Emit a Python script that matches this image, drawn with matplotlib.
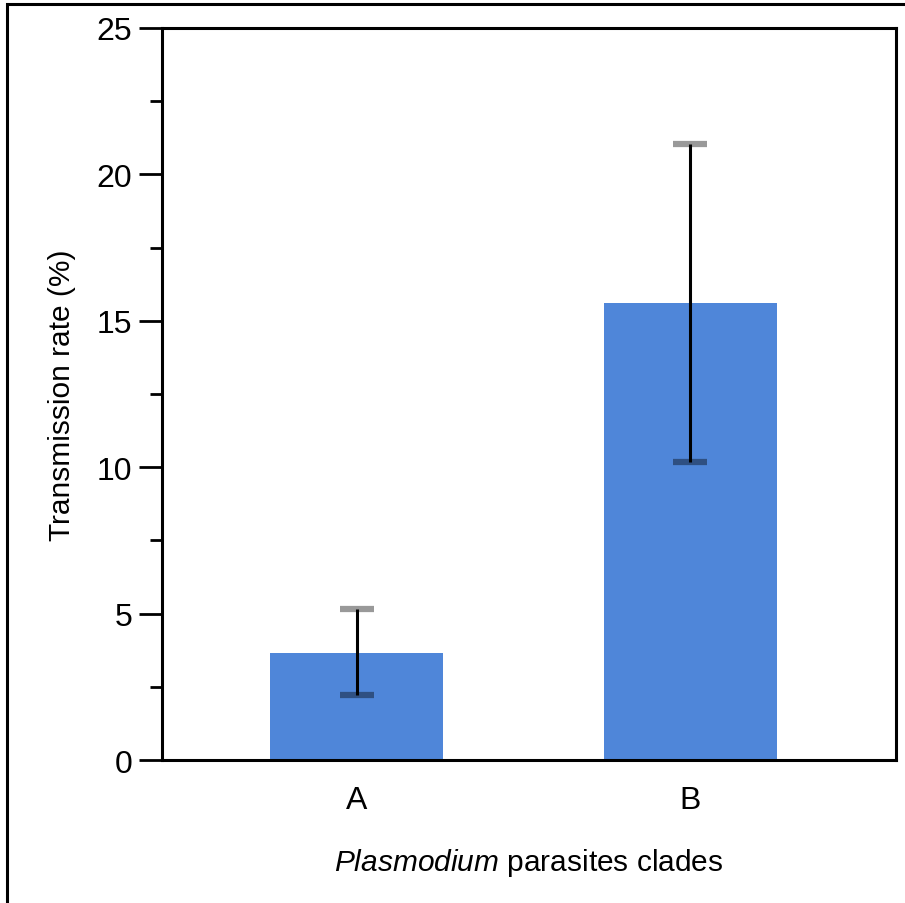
import matplotlib.pyplot as plt
from matplotlib.patches import Rectangle
from matplotlib.ticker import MultipleLocator

# Data
clades = ['A', 'B']
rates = [3.65, 15.6]
err_low = [2.22, 10.18]
err_high = [5.16, 21.04]

plt.rcParams['font.family'] = ['Liberation Sans', 'DejaVu Sans']
plt.rcParams['mathtext.fontset'] = 'custom'
plt.rcParams['mathtext.it'] = 'Liberation Sans:italic'
plt.rcParams['mathtext.rm'] = 'Liberation Sans'

fig = plt.figure(figsize=(9.05, 9.04), dpi=100)
ax = fig.add_axes([0.179, 0.158, 0.811, 0.810])

# outer frame (only left and top visible in the original crop)
fig.patches.append(Rectangle((7 / 905, -0.1), 1.2, 1 - 5 / 904 + 0.1,
                             transform=fig.transFigure, fill=False,
                             edgecolor='black', linewidth=2.2))

x = list(range(len(clades)))
ax.bar(x, rates, width=0.52, color='#4f86d9', zorder=2)

yerr = [[r - lo for r, lo in zip(rates, err_low)],
        [hi - r for r, hi in zip(rates, err_high)]]
line, caps, bars = ax.errorbar(x, rates, yerr=yerr, fmt='none', ecolor='black',
                               elinewidth=2.2, capsize=12.2, capthick=4.5, zorder=3)
for c in caps:
    c.set_alpha(0.4)

ax.set_xlim(-0.584, 1.617)
ax.set_ylim(0, 25)
ax.set_xticks(x)
ax.set_xticklabels(clades)
ax.yaxis.set_major_locator(MultipleLocator(5))
ax.yaxis.set_minor_locator(MultipleLocator(2.5))

for s in ax.spines.values():
    s.set_linewidth(2.2)

ax.tick_params(axis='x', length=0, pad=18, labelsize=23)
ax.tick_params(axis='y', which='major', length=16.5, width=2, pad=5, labelsize=23)
ax.tick_params(axis='y', which='minor', length=8.6, width=2)

ax.set_ylabel('Transmission rate (%)', fontsize=21.5, labelpad=15)
ax.set_xlabel(r'$\it{Plasmodium}$ parasites clades', fontsize=21.5, labelpad=22)

fig.savefig('out.png', dpi=100)
